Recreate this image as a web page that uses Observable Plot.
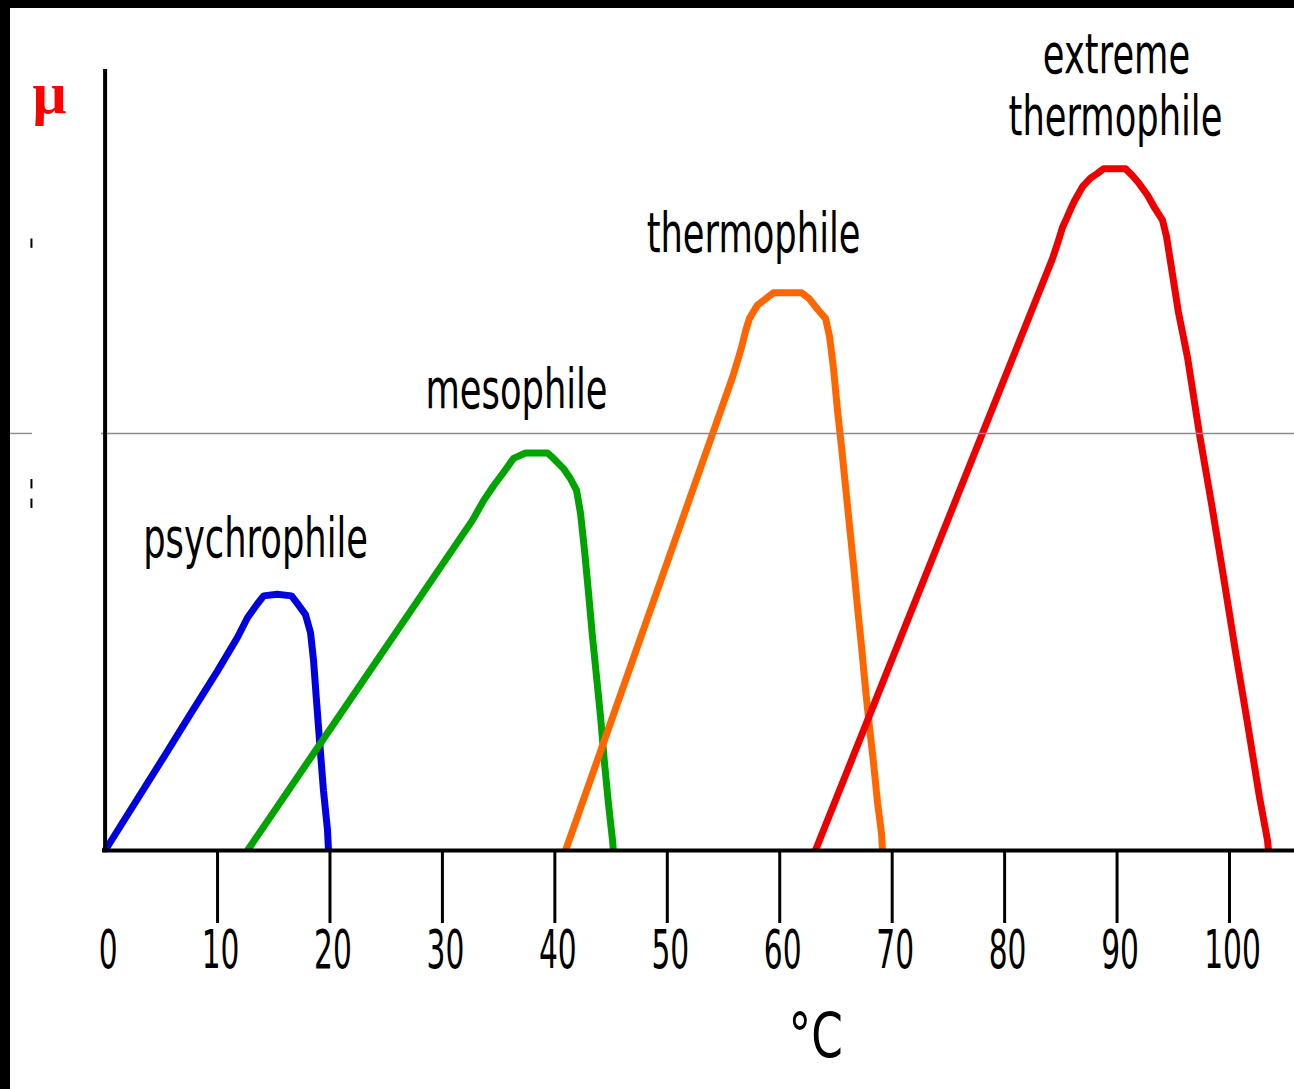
<!DOCTYPE html>
<html>
<head>
<meta charset="utf-8">
<script src="https://cdn.jsdelivr.net/npm/d3@7"></script>
<script src="https://cdn.jsdelivr.net/npm/@observablehq/plot@0.6"></script>
<style>
  html, body { margin: 0; padding: 0; background: #000; width: 1294px; height: 1089px; overflow: hidden; }
  #chart { position: absolute; left: 10px; top: 8px; width: 1284px; height: 1081px; background: #fff; }
</style>
</head>
<body>
<div id="chart"></div>
<script>
// ---- data (temperature °C, relative growth rate μ) ----
const psychroT  = [0, 5.19, 7.6, 10.0, 11.78, 12.66, 13.55, 14.1, 15.3, 16.58, 17.11, 17.82, 18.27, 18.54, 18.8, 19.07, 19.42, 19.78, 19.87];
const psychroMu = [0, 0.119, 0.175, 0.230, 0.273, 0.298, 0.316, 0.326, 0.328, 0.326, 0.316, 0.302, 0.279, 0.243, 0.192, 0.141, 0.077, 0.026, 0];

const mesoT  = [12.66, 32.68, 33.66, 34.55, 35.43, 36.32, 37.39, 39.35, 39.88, 40.77, 41.39, 41.93, 42.28, 42.64, 43.0, 43.35, 43.71, 44.07, 44.42, 44.78, 45.13, 45.2];
const mesoMu = [0, 0.423, 0.448, 0.467, 0.484, 0.502, 0.509, 0.509, 0.502, 0.489, 0.476, 0.461, 0.432, 0.384, 0.329, 0.273, 0.222, 0.170, 0.111, 0.058, 0.013, 0];

const thermoT  = [40.95, 55.8, 56.25, 56.6, 56.96, 57.3, 58.0, 58.9, 59.44, 61.94, 62.65, 63.36, 64.08, 64.43, 64.79, 65.14, 65.5, 65.86, 66.21, 66.57, 66.92, 67.28, 67.64, 67.99, 68.35, 68.7, 69.05, 69.14];
const thermoMu = [0, 0.606, 0.627, 0.644, 0.665, 0.681, 0.698, 0.708, 0.714, 0.714, 0.706, 0.693, 0.681, 0.658, 0.616, 0.563, 0.516, 0.465, 0.415, 0.364, 0.311, 0.260, 0.205, 0.157, 0.111, 0.061, 0.022, 0];

const extremeT  = [63.17, 84.26, 84.7, 85.15, 85.5, 85.86, 86.22, 86.93, 87.64, 88.26, 88.8, 90.75, 91.37, 91.91, 92.71, 93.33, 94.04, 94.4, 94.75, 95.46, 96.27, 97.33, 98.4, 99.47, 100.53, 101.6, 102.67, 103.38, 103.47];
const extremeMu = [0, 0.758, 0.777, 0.798, 0.809, 0.821, 0.832, 0.850, 0.861, 0.867, 0.873, 0.873, 0.864, 0.855, 0.839, 0.823, 0.807, 0.786, 0.754, 0.689, 0.631, 0.533, 0.444, 0.350, 0.255, 0.163, 0.068, 0.013, 0];

const seriesNames  = ["psychrophile", "mesophile", "thermophile", "extreme thermophile"];
const seriesColors = ["#0000e1", "#00a400", "#ff6600", "#ee0000"];

// curve labels (text lines, anchor temperature, baseline μ)
const labelTexts = ["psychrophile", "mesophile", "thermophile", "extreme", "thermophile"];
const labelT     = [13.38, 36.59, 57.67, 89.95, 89.86];
const labelMu    = [0.376, 0.566, 0.766, 0.995, 0.916];

// x ticks
const tickValues = [0, 10, 20, 30, 40, 50, 60, 70, 80, 90, 100];
const tickLabels = ["0", "10", "20", "30", "40", "50", "60", "70", "80", "90", "100"];

// reference line and small y-axis stubs
const refLineMu = [0.534];
const stubMu = [[0.783, 0.771], [0.475, 0.463], [0.450, 0.438]];

// ---- build ----
const zip = (T, M, name) => T.map((t, i) => ({t, mu: M[i], name}));
const curves = [
  ...zip(psychroT, psychroMu, seriesNames[0]),
  ...zip(mesoT, mesoMu, seriesNames[1]),
  ...zip(thermoT, thermoMu, seriesNames[2]),
  ...zip(extremeT, extremeMu, seriesNames[3])
];
const labels = labelTexts.map((s, i) => ({s, t: labelT[i], mu: labelMu[i]}));
const ticks = tickValues.map((v, i) => ({v, label: tickLabels[i]}));

const svg = Plot.plot({
  width: 1284,
  height: 1081,
  marginLeft: 94.6,
  marginRight: 65,
  marginTop: 61,
  marginBottom: 239,
  style: {background: "white", overflow: "visible"},
  x: {domain: [0, 100], axis: null},
  y: {domain: [0, 1], axis: null},
  color: {domain: seriesNames, range: seriesColors},
  marks: [
    // curves
    Plot.line(curves, {x: "t", y: "mu", z: "name", stroke: "name", strokeWidth: 7, strokeLinejoin: "round", strokeLinecap: "butt"}),
    // grey reference line (two pieces, gap behind the μ label)
    Plot.ruleY(refLineMu, {x1: -8.41, x2: -6.46, stroke: "#8a8a8a", strokeWidth: 1.4}),
    Plot.ruleY(refLineMu, {x1: -0.32, x2: 105.8, stroke: "#8a8a8a", strokeWidth: 1.4}),
    // small stubs at left
    Plot.ruleX(stubMu, {x: -6.55, y1: d => d[0], y2: d => d[1], stroke: "#000", strokeWidth: 2}),
    // axes
    Plot.ruleX([0], {y1: 1, y2: -0.003, stroke: "#000", strokeWidth: 4}),
    Plot.ruleY([0], {x1: -0.23, x2: 105.8, stroke: "#000", strokeWidth: 4}),
    Plot.ruleX(ticks.filter(d => d.v > 0), {x: "v", y1: 0, y2: -0.0935, stroke: "#000", strokeWidth: 3}),
    Plot.text(ticks, {x: "v", y: -0.151, text: "label", dx: 3, lineAnchor: "bottom", textAnchor: "middle", fontFamily: "DejaVu Sans", fontSize: 53, fill: "#000"}),
    // axis titles
    Plot.text(["°C"], {x: 63.2, y: -0.264, lineAnchor: "bottom", textAnchor: "middle", fontFamily: "DejaVu Sans", fontSize: 63, fill: "#000"}),
    Plot.text(["μ"], {x: -4.94, y: 0.944, lineAnchor: "bottom", textAnchor: "middle", fontFamily: "Liberation Serif", fontWeight: "bold", fontSize: 60, fill: "#ff0000"}),
    // curve labels
    Plot.text(labels, {x: "t", y: "mu", text: "s", lineAnchor: "bottom", textAnchor: "middle", fontFamily: "DejaVu Sans", fontSize: 56, fill: "#000"})
  ]
});
document.getElementById("chart").append(svg);

// condense the sans-serif texts horizontally (narrow bitmap-like lettering)
const condense = {"53": 0.56, "56": 0.63, "63": 0.72};
svg.querySelectorAll("g[font-size]").forEach(g => {
  const f = condense[String(parseFloat(g.getAttribute("font-size")))];
  if (!f) return;
  g.querySelectorAll("text").forEach(t => {
    const b = t.getBBox();
    const cx = b.x + b.width / 2;
    const prev = t.getAttribute("transform") || "";
    t.setAttribute("transform", `${prev} translate(${cx},0) scale(${f},1) translate(${-cx},0)`.trim());
  });
});
</script>
</body>
</html>
